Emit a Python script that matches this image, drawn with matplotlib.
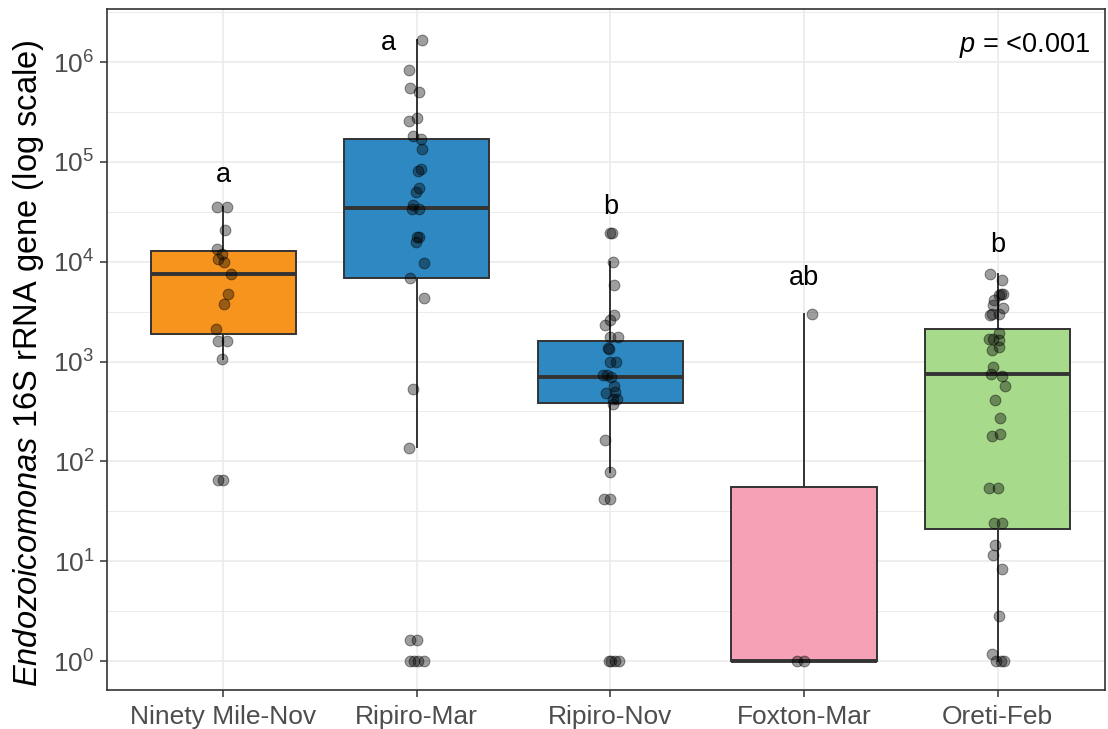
import numpy as np
import matplotlib
matplotlib.use("Agg")
import matplotlib.pyplot as plt
from matplotlib.ticker import LogFormatterMathtext, FixedLocator

plt.rcParams["font.family"] = ["Liberation Sans", "DejaVu Sans"]
plt.rcParams["mathtext.fontset"] = "custom"
plt.rcParams["mathtext.rm"] = "Liberation Sans"
plt.rcParams["mathtext.it"] = "Liberation Sans:italic"

# ---- data -------------------------------------------------------------
sites = ["Ninety Mile-Nov", "Ripiro-Mar", "Ripiro-Nov", "Foxton-Mar", "Oreti-Feb"]
box_colors = ["#F7941E", "#2E89C2", "#2E89C2", "#F7A1B7", "#A8DA8C"]

ninety_nov = [3.5e4, 3.5e4, 2.1e4, 1.34e4, 1.2e4, 1.06e4, 1.0e4, 7.5e3, 4.7e3,
              3.75e3, 2.1e3, 1.6e3, 1.6e3, 1.06e3, 65, 65]
ripiro_mar = [1.65e6, 8.4e5, 5.5e5, 5.0e5, 2.75e5, 2.55e5, 1.8e5, 1.7e5, 1.36e5,
              8.4e4, 8.1e4, 5.5e4, 5.0e4, 3.7e4, 3.4e4, 3.4e4, 1.75e4, 1.75e4,
              1.56e4, 9.8e3, 6.9e3, 4.3e3, 530, 136, 1.62, 1.62, 1, 1, 1, 1]
ripiro_nov = [1.92e4, 1.92e4, 1.0e4, 5.9e3, 2.9e3, 2.6e3, 2.3e3, 1.75e3, 1.75e3,
              1.36e3, 1.33e3, 1.0e3, 1.0e3, 736, 736, 708, 571, 500, 482, 424,
              424, 377, 162, 77.6, 42, 42, 1, 1, 1, 1]
foxton_mar = [2970, 1, 1]
oreti_feb = [7.6e3, 6.5e3, 4.8e3, 4.8e3, 4.6e3, 4.1e3, 3.7e3, 3.4e3, 3.0e3, 3.0e3,
             2.9e3, 1.92e3, 1.67e3, 1.67e3, 1.65e3, 1.41e3, 1.29e3, 891, 753,
             724, 575, 414, 275, 189, 178, 54, 54, 24, 24, 14.5, 11.5, 8.3,
             2.84, 1.17, 1, 1, 1]
values = [ninety_nov, ripiro_mar, ripiro_nov, foxton_mar, oreti_feb]

# box summaries: lower whisker, Q1, median, Q3, upper whisker
whisker_low = [1.06e3, 140, 77.6, 1, 1]
q1 = [1.9e3, 6.9e3, 383, 1, 21]
median = [7.5e3, 3.45e4, 708, 1, 753]
q3 = [1.28e4, 1.71e5, 1.62e3, 55, 2.1e3]
whisker_high = [3.5e4, 1.65e6, 1.0e4, 2970, 7.6e3]

# significance letters
letters = ["a", "a", "b", "ab", "b"]
letter_y = [7.4e4, 1.55e6, 3.5e4, 6.8e3, 1.48e4]
letter_dx = [0.0, -0.145, 0.0, 0.0, 0.0]
p_text = r"$\mathit{p}$ = <0.001"

# horizontal jitter of the points (pixels)
jitter_px = [
    [-5.7, 4.3, 2, -6, -1.3, -5, 1, 7.7, 5, 1, -7.3, -5, 4, -1.3, -5, 0],
    [5, -7.3, -6.7, 2.7, 0, -7.3, -3.3, 4, 5.7, 4, 1, 2.7, -0.7, -4, -5, 2.7,
     2.7, 0, -1, 7.3, -6.7, 7.3, -3.3, -7.3, -6.7, 0, -6.7, -2.3, 1, 7.7],
    [0, 1.7, 2.7, 4, 4, -0.7, -5, 0, 7.7, -2.3, -1.7, 0, 6, -7.3, -3.3, 1, 3.3,
     5, -4, 6.7, 2.7, 2.7, -5, -0.7, -6.7, 0, -1.7, 1, 5, 8.3],
    [7.7, -7.3, 0],
    [-7.3, 4.3, 3.3, 5, 1, -4, -5, 5, -5.7, 1, -7.3, 1, -8.3, -5, 1.7, 1.7,
     -5.7, -4.3, -6.7, 4.3, 7.7, -2.3, 2.3, 2.3, -5.7, -8.3, 0, -4, 4.3,
     -2.3, -5, 4.3, 1.7, -5.7, -1.7, 3.3, 6.7],
]

# ---- figure -------------------------------------------------------------
W, H = 1108, 729
fig = plt.figure(figsize=(W / 100, H / 100), dpi=100)
left, right, top, bottom = 107, 1105, 9, 690
ax = fig.add_axes([left / W, 1 - bottom / H, (right - left) / W, (bottom - top) / H])

x_lo = 0.4
px_per_unit = 193.6
x_hi = x_lo + (right - left) / px_per_unit
ax.set_xlim(x_lo, x_hi)
ax.set_yscale("log")
ax.set_ylim(10 ** -0.29, 10 ** 6.531)

grid_c = "#EBEBEB"
for k in range(0, 7):
    ax.axhline(10.0 ** k, color=grid_c, lw=1.2, zorder=0)
for k in range(-1, 7):
    ax.axhline(10.0 ** (k + 0.5), color=grid_c, lw=0.7, zorder=0)
positions = np.arange(1, len(sites) + 1)
for xp in positions:
    ax.axvline(xp, color=grid_c, lw=1.2, zorder=0)

stats = []
for i in range(len(sites)):
    stats.append(dict(whislo=whisker_low[i], q1=q1[i], med=median[i],
                      q3=q3[i], whishi=whisker_high[i], fliers=[]))

edge = "#333333"
bp = ax.bxp(stats, positions=positions, widths=0.75, patch_artist=True,
            showcaps=False, showfliers=False,
            boxprops=dict(edgecolor=edge, linewidth=1.4),
            whiskerprops=dict(color=edge, linewidth=1.4),
            medianprops=dict(color=edge, linewidth=2.8, solid_capstyle="butt"),
            zorder=2)
for patch, c in zip(bp["boxes"], box_colors):
    patch.set_facecolor(c)

for i, (vals, jit) in enumerate(zip(values, jitter_px)):
    xs = positions[i] + np.array(jit) / px_per_unit
    ax.scatter(xs, vals, s=60, facecolor=(0, 0, 0, 0.38),
               edgecolor=(0, 0, 0, 0.45), linewidths=0.7, zorder=3)

for i, (lab, ly, dx) in enumerate(zip(letters, letter_y, letter_dx)):
    ax.text(positions[i] + dx, ly, lab, ha="center", va="center",
            fontsize=19.5, color="black", zorder=4)

ax.text(0.985, 0.946, p_text, transform=ax.transAxes, ha="right",
        va="center", fontsize=19.5, color="black")

# axes styling
ax.yaxis.set_major_locator(FixedLocator([10.0 ** k for k in range(7)]))
ax.yaxis.set_major_formatter(LogFormatterMathtext())
ax.yaxis.set_minor_locator(FixedLocator([]))
ax.set_xticks(positions)
ax.set_xticklabels(sites)
ax.tick_params(axis="both", which="major", direction="out", length=5,
               width=1.1, color="#333333", labelcolor="#4D4D4D",
               labelsize=19)
ax.tick_params(axis="x", pad=6)
ax.tick_params(axis="y", pad=4)
for sp in ax.spines.values():
    sp.set_color("#333333")
    sp.set_linewidth(1.2)

fig.text(29 / W, 1 - 363 / H,
         r"$\mathit{Endozoicomonas}$ 16S rRNA gene (log scale)",
         rotation=90, ha="center", va="center", fontsize=23.5, color="black")

fig.savefig("out.png", dpi=100)
